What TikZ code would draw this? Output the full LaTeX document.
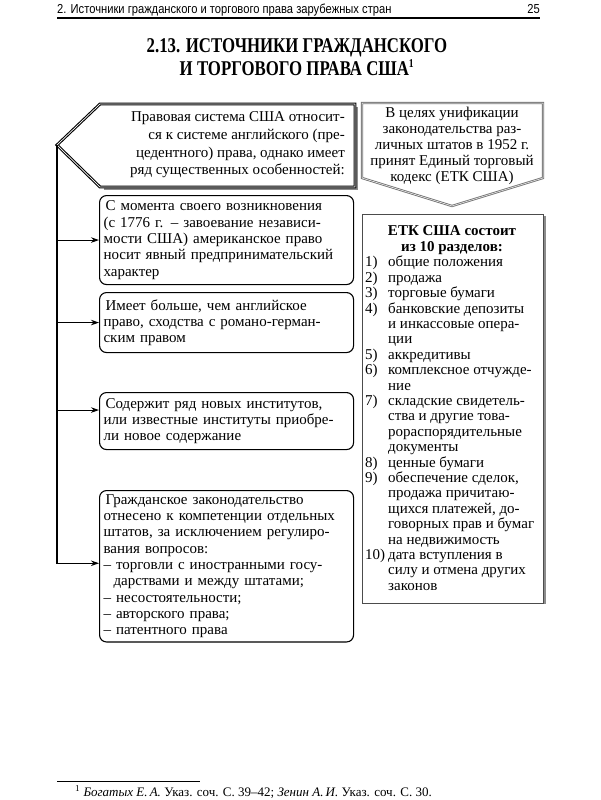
\documentclass[tikz,border=0pt]{standalone}
\usepackage{fontspec}
\setmainfont{Liberation Serif}
\newfontfamily\headfont[FakeStretch=0.86]{Liberation Sans}
\newfontfamily\titlefont[FakeStretch=0.8]{Liberation Serif}
\usepackage{xcolor}
\usetikzlibrary{positioning,arrows.meta,calc}
\newcommand{\bodyfs}{\fontsize{15}{16.3}\selectfont}
\newcommand{\listfs}{\fontsize{15}{15.4}\selectfont}
\newcommand{\itm}[1]{\makebox[23pt][l]{#1}}
\newcommand{\cnt}{\hspace*{23pt}}

\begin{document}
\begin{tikzpicture}[x=1pt, y=-1pt,
    feat/.style={rectangle, draw, line width=1.1pt, rounded corners=7pt, anchor=north west, minimum width=254pt, text width=246pt, inner xsep=4pt, inner ysep=4pt, align=left, font=\bodyfs},
    plain/.style={inner sep=0pt, align=center},
    outline/.style={draw=black!70, line width=0.9pt},
    shade/.style={draw=black!45, line width=2.4pt},
    arrow/.style={line width=1.1pt, -{Stealth[length=8pt, width=5.5pt]}}
]
\useasboundingbox (0,0) rectangle (600,800);
\node[plain, anchor=base west, font=\headfont\fontsize{13}{15}\selectfont] (runhead) at (57,14) {2. Источники гражданского и торгового права зарубежных стран};
\node[plain, anchor=base east, font=\headfont\fontsize{13}{15}\selectfont] (pagenum) at (540,14) {25};
\draw[line width=1.4pt] (57,18) -- (540,18);
\node[plain, font=\titlefont\bfseries\fontsize{21}{23}\selectfont] (title) at (297,57) {2.13. ИСТОЧНИКИ ГРАЖДАНСКОГО\\И ТОРГОВОГО ПРАВА США\textsuperscript{\fontsize{12}{12}\selectfont 1}};

\draw[shade] (356.5,107) -- (356.5,188.5) -- (104,188.5);
\draw[line width=1.1pt, double, double distance=0.7pt, fill=white] (57,145) -- (100,104) -- (355,104) -- (355,187) -- (100,187) -- cycle;
\coordinate (tip) at (57,145);
\node[plain, align=right, anchor=east, font=\bodyfs\setlength{\baselineskip}{17.7pt}] (legal) at (345,145) {Правовая система США относит-\\ся к системе английского (пре-\\цедентного) права, однако имеет\\ряд существенных особенностей:};

\draw[outline, double, double distance=0.5pt, draw=black!55] (362,103) -- (543,103) -- (543,178) -- (452,206) -- (362,178) -- cycle;
\node[plain, font=\bodyfs\setlength{\baselineskip}{16pt}] (ucc) at (452,146) {В целях унификации\\законодательства раз-\\личных штатов в 1952 г.\\принят Единый торговый\\кодекс (ЕТК США)};

\draw[shade] (544.5,216) -- (544.5,604);
\draw[outline] (362,214) rectangle (543,603);
\node[plain, font=\bfseries\listfs] (sechead) at (452,240) {ЕТК США состоит\\из 10 разделов:};
\node[plain, anchor=north west, align=left, font=\listfs] (seclist) at (365,256) {\itm{1)}общие положения\\\itm{2)}продажа\\\itm{3)}торговые бумаги\\\itm{4)}банковские депозиты\\\cnt и инкассовые опера-\\\cnt ции\\\itm{5)}аккредитивы\\\itm{6)}комплексное отчужде-\\\cnt ние\\\itm{7)}складские свидетель-\\\cnt ства и другие това-\\\cnt рораспорядительные\\\cnt документы\\\itm{8)}ценные бумаги\\\itm{9)}обеспечение сделок,\\\cnt продажа причитаю-\\\cnt щихся платежей, до-\\\cnt говорных прав и бумаг\\\cnt на недвижимость\\\itm{10)}дата вступления в\\\cnt силу и отмена других\\\cnt законов};

\node[feat, minimum height=89pt] (feat1) at (99,195) {\hspace*{2pt}С момента своего возникновения\\(с 1776 г. -- завоевание независи-\\мости США) американское право\\носит явный предпринимательский\\характер};
\node[feat, minimum height=60pt] (feat2) at (99,292) {\hspace*{2pt}Имеет больше, чем английское\\право, сходства с романо-герман-\\ским правом};
\node[feat, minimum height=57pt] (feat3) at (99,392) {\hspace*{2pt}Содержит ряд новых институтов,\\или известные институты приобре-\\ли новое содержание};
\node[feat, minimum height=150pt] (feat4) at (99,490) {\hspace*{2pt}Гражданское законодательство\\отнесено к компетенции отдельных\\штатов, за исключением регулиро-\\вания вопросов:\\-- торговли с иностранными госу-\\\hspace*{10pt}дарствами и между штатами;\\-- несостоятельности;\\-- авторского права;\\-- патентного права};

\coordinate (feat3in) at ([yshift=11pt]feat3.west);
\coordinate (feat4in) at ([yshift=3pt]feat4.west);
\draw[arrow] (tip) |- (feat4in);
\draw[arrow] (tip |- feat1.west) -- (feat1.west);
\draw[arrow] (tip |- feat2.west) -- (feat2.west);
\draw[arrow] (tip |- feat3in) -- (feat3in);

\draw[line width=0.6pt] (57,781) -- (200,781);
\node[plain, anchor=base west, font=\fontsize{13}{15}\selectfont] (footnote) at (75,796) {\textsuperscript{1} \textit{Богатых Е.\,А.} Указ. соч. С. 39--42; \textit{Зенин А.\,И.} Указ. соч. С. 30.};
\end{tikzpicture}
\end{document}
